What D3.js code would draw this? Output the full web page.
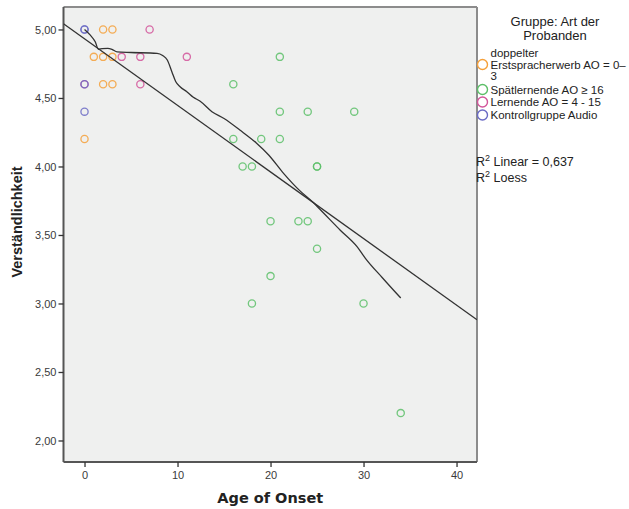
<!DOCTYPE html>
<html><head><meta charset="utf-8">
<script src="https://cdn.jsdelivr.net/npm/d3@7"></script>
<style>body{margin:0;background:#fff;} svg{display:block;font-family:"DejaVu Sans",sans-serif;}</style>
</head><body><svg id="c" width="629" height="509"></svg>
<script>
const groups = ["doppelter Erstspracherwerb AO = 0–3","Spätlernende AO ≥ 16","Lernende AO = 4 - 15","Kontrollgruppe Audio"];
const groupColors = ["#f5a03a","#5cbf68","#d2549a","#6a6ac4"];
const doppelterAO = [2,3,1,2,3,2,3,0];
const doppelterV  = [5.0,5.0,4.8,4.8,4.8,4.6,4.6,4.2];
const spaetAO = [21,16,21,24,29,16,19,21,17,18,25,25,20,23,24,25,20,18,30,34];
const spaetV  = [4.8,4.6,4.4,4.4,4.4,4.2,4.2,4.2,4.0,4.0,4.0,4.0,3.6,3.6,3.6,3.4,3.2,3.0,3.0,2.2];
const lernendeAO = [7,4,6,11,6,0];
const lernendeV  = [5.0,4.8,4.8,4.8,4.6,4.6];
const kontrollAO = [0,0,0,0];
const kontrollV  = [5.0,5.0,4.6,4.4];
const linearFit = [4.932,-0.0486]; // intercept, slope
const r2Linear = "0,637";
const loessX = [0,0.6,1.15,1.5,1.9,2.5,2.95,3.5,5,7.8,8.4,8.9,9.4,9.8,10.3,11.0,11.7,12.4,13.7,15.0,16.7,18.5,19.8,21.4,23.2,24.5,25.7,27.5,29.3,30.2,32,34];
const loessY = [5.0,4.96,4.91,4.855,4.86,4.862,4.855,4.836,4.832,4.826,4.81,4.777,4.69,4.62,4.58,4.546,4.505,4.478,4.40,4.35,4.266,4.17,4.084,3.95,3.82,3.743,3.66,3.535,3.415,3.33,3.19,3.04];
const xTicks = [0,10,20,30,40];
const yTicks = [2.0,2.5,3.0,3.5,4.0,4.5,5.0];

const svg = d3.select("#c");
const L=63.5,R=477,T=7,B=462;
const x = d3.scaleLinear().domain([-2.26,42.2]).range([L,R]);
const y = d3.scaleLinear().domain([1.843,5.164]).range([B,T]);

svg.append("rect").attr("x",L).attr("y",T).attr("width",R-L).attr("height",B-T).attr("fill","#eff0ef");
svg.append("line").attr("x1",L).attr("x2",R).attr("y1",T).attr("y2",T).attr("stroke","#8c8c8c").attr("stroke-width",2);
svg.append("line").attr("x1",R).attr("x2",R).attr("y1",T).attr("y2",B).attr("stroke","#8c8c8c").attr("stroke-width",2);

const fmt = d => d.toFixed(2).replace(".",",");
const yAxis = svg.append("g").attr("transform",`translate(${L},0)`)
  .call(d3.axisLeft(y).tickValues(yTicks).tickFormat(fmt).tickSize(5).tickPadding(2));
const xAxis = svg.append("g").attr("transform",`translate(0,${B})`)
  .call(d3.axisBottom(x).tickValues(xTicks).tickFormat(d3.format("d")).tickSize(5).tickPadding(4));
[yAxis,xAxis].forEach(a=>{
  a.select(".domain").attr("stroke","#555").attr("stroke-width",2);
  a.selectAll(".tick line").attr("stroke","#333").attr("stroke-width",1.3);
  a.selectAll("text").attr("fill","#3a3a3a").style("font-size","11px");
});
xAxis.select(".domain").attr("d",`M${L},0H${R}`);
yAxis.select(".domain").attr("d",`M0,${T}V${B}`);

svg.append("clipPath").attr("id","pc").append("rect").attr("x",L).attr("y",T).attr("width",R-L).attr("height",B-T);

const sets = [[doppelterAO,doppelterV],[spaetAO,spaetV],[lernendeAO,lernendeV],[kontrollAO,kontrollV]];
const pg = svg.append("g");
sets.forEach((s,gi)=>{
  s[0].forEach((a,i)=>{
    pg.append("circle").attr("cx",x(a)).attr("cy",y(s[1][i])).attr("r",3.6)
      .attr("fill","none").attr("stroke",groupColors[gi]).attr("stroke-width",1.3).attr("stroke-opacity",0.85);
  });
});

const lg = svg.append("g").attr("clip-path","url(#pc)");
const xd = x.domain();
lg.append("line").attr("x1",x(xd[0])).attr("y1",y(linearFit[0]+linearFit[1]*xd[0]))
  .attr("x2",x(xd[1])).attr("y2",y(linearFit[0]+linearFit[1]*xd[1]))
  .attr("stroke","#333").attr("stroke-width",1.3);
const line = d3.line().x(d=>x(d[0])).y(d=>y(d[1])).curve(d3.curveMonotoneX);
lg.append("path").attr("d",line(loessX.map((v,i)=>[v,loessY[i]])))
  .attr("fill","none").attr("stroke","#333").attr("stroke-width",1.3);

svg.append("text").attr("x",(L+R)/2).attr("y",503).attr("text-anchor","middle")
  .style("font-size","14.5px").style("font-weight","bold").attr("fill","#222").text("Age of Onset");
svg.append("text").attr("transform","translate(22,222) rotate(-90)").attr("text-anchor","middle")
  .style("font-family","'Liberation Sans',sans-serif")
  .style("font-size","14.5px").style("font-weight","bold").attr("fill","#222").text("Verständlichkeit");

const lgd = svg.append("g").style("font-family","'Liberation Sans',Arial,sans-serif").style("font-size","11.5px").attr("fill","#222");
lgd.append("text").attr("x",555).attr("y",26).attr("text-anchor","middle").style("font-size","13px").text("Gruppe: Art der");
lgd.append("text").attr("x",555).attr("y",39.5).attr("text-anchor","middle").style("font-size","13px").text("Probanden");
const itemY = [64.5,89.5,102,115];
const itemLines = [["doppelter","Erstspracherwerb AO = 0–","3"],[groups[1]],[groups[2]],[groups[3]]];
groups.forEach((g,i)=>{
  lgd.append("circle").attr("cx",482.5).attr("cy",itemY[i]).attr("r",5).attr("fill","none")
    .attr("stroke",groupColors[i]).attr("stroke-width",1.4);
  const ls = itemLines[i];
  ls.forEach((t,j)=>{
    lgd.append("text").attr("x",490.5).attr("y",itemY[i]+4+(j-(ls.length-1)/2)*11.5).text(t);
  });
});
const r2 = lgd.append("text").attr("x",476).attr("y",166).style("font-size","12.5px");
r2.append("tspan").text("R");
r2.append("tspan").attr("dy",-5).style("font-size","9px").text("2");
r2.append("tspan").attr("dy",5).text(" Linear = "+r2Linear);
const r3 = lgd.append("text").attr("x",476).attr("y",182).style("font-size","12.5px");
r3.append("tspan").text("R");
r3.append("tspan").attr("dy",-5).style("font-size","9px").text("2");
r3.append("tspan").attr("dy",5).text(" Loess");
</script></body></html>
